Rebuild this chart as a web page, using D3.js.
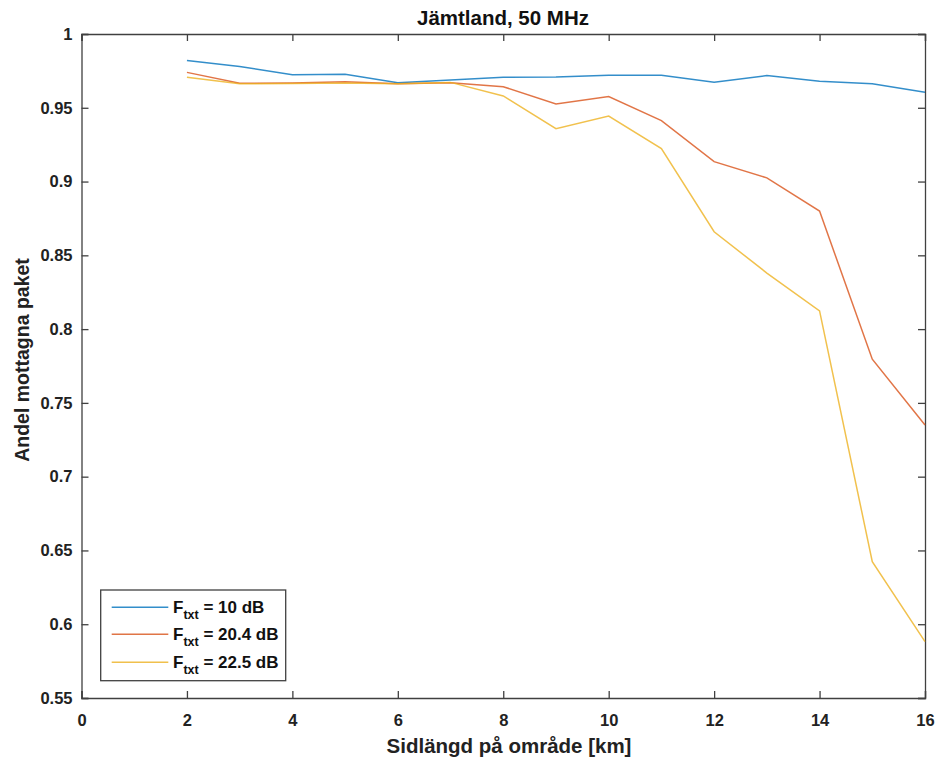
<!DOCTYPE html>
<html><head><meta charset="utf-8">
<script src="https://cdn.jsdelivr.net/npm/d3@7"></script>
<style>body{margin:0;background:#fff}svg{display:block}text{font-family:"Liberation Sans",Arial,sans-serif}</style>
</head><body><svg id="c" width="939" height="760"></svg>
<script>
const xs = [2,3,4,5,6,7,8,9,10,11,12,13,14,15,16];
const f10 = [0.982,0.978,0.9724,0.9727,0.967,0.9688,0.9707,0.9709,0.972,0.972,0.9673,0.9718,0.968,0.9663,0.9605];
const f204 = [0.974,0.9666,0.9668,0.9677,0.9662,0.967,0.9643,0.9526,0.9576,0.9413,0.9135,0.9025,0.880,0.7796,0.735];
const f225 = [0.9707,0.9663,0.9665,0.9668,0.9662,0.9672,0.958,0.9358,0.9444,0.9223,0.866,0.838,0.8123,0.6424,0.5882];
const seriesNames = ["10 dB","20.4 dB","22.5 dB"];
const colors = ["#0072BD","#D95319","#EDB120"];
const xTicks = [0,2,4,6,8,10,12,14,16];
const yTicks = [0.55,0.6,0.65,0.7,0.75,0.8,0.85,0.9,0.95,1];
const title = "Jämtland, 50 MHz";
const xLabel = "Sidlängd på område [km]";
const yLabel = "Andel mottagna paket";

const svg = d3.select("#c");
const L=81.5,R=925,T=34,B=698;
const x = d3.scaleLinear().domain([0,16]).range([L,R]);
const y = d3.scaleLinear().domain([0.55,1]).range([B,T]);
const ax="#404040";
const fmt = d=> d===1?"1":String(d);

const gx = svg.append("g").attr("transform",`translate(0,${B})`)
  .call(d3.axisBottom(x).tickValues(xTicks).tickSize(-7).tickPadding(16).tickFormat(fmt));
const gxt = svg.append("g").attr("transform",`translate(0,${T})`)
  .call(d3.axisTop(x).tickValues(xTicks).tickSize(-7).tickFormat(""));
const gy = svg.append("g").attr("transform",`translate(${L},0)`)
  .call(d3.axisLeft(y).tickValues(yTicks).tickSize(-7).tickPadding(9).tickFormat(fmt));
const gyr = svg.append("g").attr("transform",`translate(${R},0)`)
  .call(d3.axisRight(y).tickValues(yTicks).tickSize(-7).tickFormat(""));
[gx,gxt,gy,gyr].forEach(g=>{
  g.selectAll("path").attr("stroke",ax).attr("stroke-width",1.3);
  g.selectAll("line").attr("stroke",ax).attr("stroke-width",1.3);
  g.selectAll("text").attr("fill","#222").style("font-size","16.5px").style("font-weight","bold").style("font-family","'Liberation Sans',Arial,sans-serif");
});

const line = d3.line().x((d,i)=>x(xs[i])).y(d=>y(d));
[f10,f204,f225].forEach((s,k)=>{
  svg.append("path").datum(s).attr("d",line).attr("fill","none")
    .attr("stroke",colors[k]).attr("stroke-width",1.5).attr("opacity",0.8);
});

svg.append("text").attr("x",503).attr("y",24.5).attr("text-anchor","middle")
  .style("font-size","20.5px").style("font-weight","bold").attr("fill","#111").text(title);
svg.append("text").attr("x",509).attr("y",753).attr("text-anchor","middle")
  .style("font-size","20.5px").attr("fill","#222").style("font-weight","bold").text(xLabel);
svg.append("text").attr("transform",`translate(29,360) rotate(-90)`).attr("text-anchor","middle")
  .style("font-size","19.5px").attr("fill","#222").style("font-weight","bold").text(yLabel);

const lg = svg.append("g");
lg.append("rect").attr("x",100.7).attr("y",590).attr("width",185).attr("height",90.7)
  .attr("fill","#fff").attr("stroke",ax).attr("stroke-width",1.3);
const rows=[607.3,634.3,662.3];
seriesNames.forEach((n,k)=>{
  lg.append("line").attr("x1",111.7).attr("x2",168.3).attr("y1",rows[k]).attr("y2",rows[k])
    .attr("stroke",colors[k]).attr("stroke-width",1.5).attr("opacity",0.8);
  const t = lg.append("text").attr("x",173).attr("y",rows[k]+6).attr("fill","#111")
    .style("font-size","17px").style("font-weight","bold");
  t.append("tspan").text("F");
  t.append("tspan").attr("dy",6).style("font-size","12.5px").text("txt");
  t.append("tspan").attr("dy",-6).text(" = "+n);
});
</script></body></html>
